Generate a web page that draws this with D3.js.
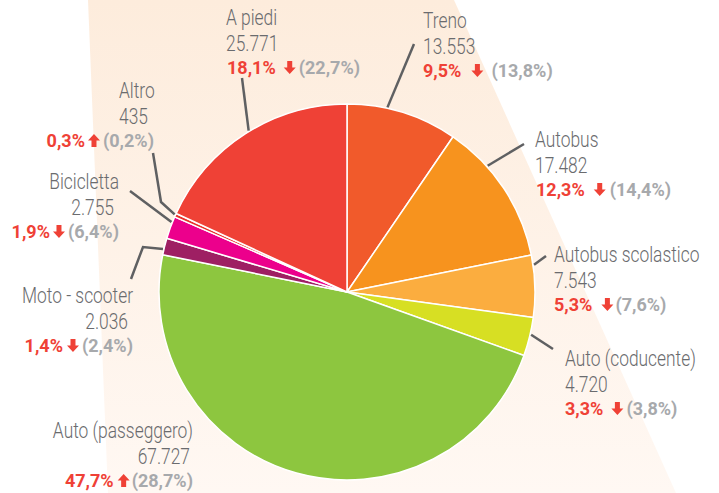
<!DOCTYPE html>
<html>
<head>
<meta charset="utf-8">
<script src="https://cdn.jsdelivr.net/npm/d3@7"></script>
<style>
  body { margin: 0; background: #fff; }
  svg { display: block; }
</style>
</head>
<body>
<div id="chart"></div>
<script>
// Data
const categories = ["Treno", "Autobus", "Autobus scolastico", "Auto (coducente)", "Auto (passeggero)",
                    "Moto - scooter", "Bicicletta", "Altro", "A piedi"];
const values = [13553, 17482, 7543, 4720, 67727, 2036, 2755, 435, 25771];
const previousShare = [13.8, 14.4, 7.6, 3.8, 28.7, 2.4, 6.4, 0.2, 22.7];

const colors = ["#f15a2b", "#f7931e", "#fbad3f", "#d7df23", "#8dc63f",
                "#9e1f63", "#ec008c", "#e8322b", "#ef4136"];

// Label placement (hand-placed like the original)
const labelLayout = [
  { x: 423, y: 28,  anchor: "start", numX: 423, pctX: 423, pctAnchor: "start", gap: [10, 8], frac: 0.36, line: [[414, 44]] },
  { x: 535, y: 147, anchor: "start", numX: 535, pctX: 536, pctAnchor: "start", gap: [9, 4],  frac: 0.31, line: [[524, 144]] },
  { x: 554, y: 262, anchor: "start", numX: 554, pctX: 554, pctAnchor: "start", gap: [9, 2],  frac: 0.16, line: [[546, 256]] },
  { x: 565, y: 366, anchor: "start", numX: 565, pctX: 565, pctAnchor: "start", gap: [8, 3],  frac: 0.44, line: [[553, 349]] },
  { x: 193, y: 438, anchor: "end",   numX: 190, pctX: 193, pctAnchor: "end",   gap: [4, 2],  frac: null, line: null },
  { x: 133, y: 303, anchor: "end",   numX: 128, pctX: 133, pctAnchor: "end",   gap: [4, 3],  frac: 0.34, line: [[131, 279], [143, 247]] },
  { x: 119, y: 189, anchor: "end",   numX: 114, pctX: 119, pctAnchor: "end",   gap: [3, 3],  frac: 0.74, line: [[130, 191]] },
  { x: 119, y: 98,  anchor: "start", numX: 119, pctX: 154, pctAnchor: "end",   gap: [3, 3],  frac: 0.6,  line: [[153, 153], [161, 202]] },
  { x: 226, y: 25,  anchor: "start", numX: 226, pctX: 227, pctAnchor: "start", gap: [8, 3],  frac: 0.52, line: [[242, 78]] }
];

const width = 719, height = 493;
const cx = 347, cy = 292, radius = 188;

const it = d3.formatLocale({ decimal: ",", thousands: ".", grouping: [3], currency: ["", "€"] });
const fmtNum = it.format(",d");
const fmtPct = it.format(".1f");

const total = d3.sum(values);

const svg = d3.select("#chart")
    .append("svg")
    .attr("width", width)
    .attr("height", height);

// Background band
const defs = svg.append("defs");
const grad = defs.append("linearGradient")
    .attr("id", "bg")
    .attr("x1", 0).attr("y1", 0).attr("x2", 0).attr("y2", 1);
grad.append("stop").attr("offset", "0%").attr("stop-color", "#fdecdc");
grad.append("stop").attr("offset", "100%").attr("stop-color", "#fff8f3");

svg.append("path")
    .attr("d", "M88,0 L454,0 L676,493 L108,493 Z")
    .attr("fill", "url(#bg)");

// Pie
const pie = d3.pie().sort(null).value(d => d);
const arcs = pie(values);
const arc = d3.arc().innerRadius(0).outerRadius(radius);

const g = svg.append("g").attr("transform", `translate(${cx},${cy})`);

g.selectAll("path.slice")
    .data(arcs)
    .enter()
    .append("path")
    .attr("class", "slice")
    .attr("d", arc)
    .attr("fill", (d, i) => colors[i])
    .attr("stroke", "#fff")
    .attr("stroke-width", 1.5)
    .attr("stroke-linejoin", "round");

// Leader lines
arcs.forEach((d, i) => {
  const L = labelLayout[i];
  if (!L.line) return;
  const a = d.startAngle + L.frac * (d.endAngle - d.startAngle);
  const r = radius + 1;
  const end = [cx + r * Math.sin(a), cy - r * Math.cos(a)];
  const pts = L.line.concat([end]);
  svg.append("path")
      .attr("d", d3.line()(pts))
      .attr("fill", "none")
      .attr("stroke", "#5f6062")
      .attr("stroke-width", 2.5);
});

// Labels
const nameFont = "Roboto, 'Liberation Sans', sans-serif";

function condensedText(parent, x, y, anchor, txt) {
  return parent.append("text")
      .attr("transform", `translate(${x},${y}) scale(0.79,1)`)
      .attr("text-anchor", anchor)
      .attr("font-family", nameFont)
      .attr("font-weight", 300)
      .attr("font-size", 22)
      .attr("fill", "#6a6b6e")
      .text(txt);
}

function arrow(parent, x, y, up) {
  // 12px wide, 13px tall arrow, baseline at y
  const w = 12, h = 13, stem = 5, head = 6.5;
  let p;
  if (up) {
    p = [[x + w / 2, y - h], [x + w, y - h + head], [x + w / 2 + stem / 2, y - h + head],
         [x + w / 2 + stem / 2, y], [x + w / 2 - stem / 2, y], [x + w / 2 - stem / 2, y - h + head],
         [x, y - h + head]];
  } else {
    p = [[x + w / 2, y], [x + w, y - head], [x + w / 2 + stem / 2, y - head],
         [x + w / 2 + stem / 2, y - h], [x + w / 2 - stem / 2, y - h], [x + w / 2 - stem / 2, y - head],
         [x, y - head]];
  }
  parent.append("path")
      .attr("d", d3.line()(p) + "Z")
      .attr("fill", "#ef4136");
}

const labels = svg.append("g");

categories.forEach((name, i) => {
  const L = labelLayout[i];
  const share = values[i] / total * 100;
  const up = share > previousShare[i];

  condensedText(labels, L.x, L.y, L.anchor, name);
  condensedText(labels, L.numX, L.y + 26, L.anchor, fmtNum(values[i]));

  const py = L.y + 49;
  const pctT = labels.append("text")
      .attr("font-family", nameFont)
      .attr("font-weight", 700)
      .attr("font-size", 18)
      .attr("fill", "#ef4136")
      .text(fmtPct(share) + "%");
  const parT = labels.append("text")
      .attr("font-family", nameFont)
      .attr("font-weight", 700)
      .attr("font-size", 18)
      .attr("fill", "#a7a9ac")
      .text("(" + fmtPct(previousShare[i]) + "%)");

  const w1 = pctT.node().getComputedTextLength();
  const w2 = parT.node().getComputedTextLength();
  const aw = 12;
  const totalW = w1 + L.gap[0] + aw + L.gap[1] + w2;
  const x0 = L.pctAnchor === "start" ? L.pctX : L.pctX - totalW;

  pctT.attr("x", x0).attr("y", py);
  arrow(labels, x0 + w1 + L.gap[0], py, up);
  parT.attr("x", x0 + w1 + L.gap[0] + aw + L.gap[1]).attr("y", py);
});
</script>
</body>
</html>
